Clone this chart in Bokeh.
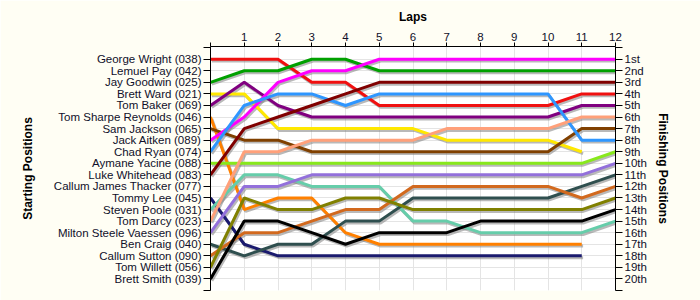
import numpy as np
from bokeh.plotting import figure
from bokeh.models import Range1d, LinearAxis, FixedTicker
from bokeh.embed import file_html
from bokeh.resources import INLINE

nan = float("nan")

laps = list(range(0, 13))
lap_labels = ["", "1", "2", "3", "4", "5", "6", "7", "8", "9", "10", "11", "12"]

start_names = [
    "George Wright (038)", "Lemuel Pay (042)", "Jay Goodwin (025)", "Brett Ward (021)",
    "Tom Baker (069)", "Tom Sharpe Reynolds (046)", "Sam Jackson (065)", "Jack Aitken (089)",
    "Chad Ryan (074)", "Aymane Yacine (088)", "Luke Whitehead (083)", "Callum James Thacker (077)",
    "Tommy Lee (045)", "Steven Poole (031)", "Tom Darcy (023)", "Milton Steele Vaessen (096)",
    "Ben Craig (040)", "Callum Sutton (090)", "Tom Willett (056)", "Brett Smith (039)",
]
finish_labels = ["1st", "2nd", "3rd", "4th", "5th", "6th", "7th", "8th", "9th", "10th",
                 "11th", "12th", "13th", "14th", "15th", "16th", "17th", "18th", "19th", "20th"]

# positions per lap (lap 0 .. 12); nan = not running
george_wright = [1, 1, 1, 3, 3, 5, 5, 5, 5, 5, 5, 4, 4]
jay_goodwin = [3, 2, 2, 1, 1, 2, 2, 2, 2, 2, 2, 2, 2]
brett_ward = [4, 4, 7, 7, 7, 7, 7, 8, 8, 8, 8, 9, nan]
tom_baker = [5, 3, 5, 6, 6, 6, 6, 6, 6, 6, 6, 5, 5]
tom_sharpe_reynolds = [6, 14, 13, 13, 16, 17, 17, 17, 17, 17, 17, 17, nan]
sam_jackson = [7, 8, 8, 9, 9, 9, 9, 9, 9, 9, 9, 7, 7]
jack_aitken = [8, 6, 3, 2, 2, 1, 1, 1, 1, 1, 1, 1, 1]
chad_ryan = [9, 5, 4, 4, 5, 4, 4, 4, 4, 4, 4, 8, 8]
aymane_yacine = [10, 10, 10, 10, 10, 10, 10, 10, 10, 10, 10, 10, 9]
luke_whitehead = [11, 7, 6, 5, 4, 3, 3, 3, 3, 3, 3, 3, 3]
tommy_lee = [13, 17, 18, 18, 18, 18, 18, 18, 18, 18, 18, 18, nan]
steven_poole = [14, 11, 11, 12, 12, 12, 15, 15, 16, 16, 16, 16, 15]
tom_darcy = [15, 9, 9, 8, 8, 8, 8, 7, 7, 7, 7, 6, 6]
milton_steele_vaessen = [16, 12, 12, 11, 11, 11, 11, 11, 11, 11, 11, 11, 10]
ben_craig = [17, 18, 17, 17, 15, 15, 13, 13, 13, 13, 13, 12, 11]
callum_sutton = [18, 16, 16, 15, 14, 14, 12, 12, 12, 12, 12, 13, 12]
tom_willett = [19, 13, 14, 14, 13, 13, 14, 14, 14, 14, 14, 14, 13]
brett_smith = [20, 15, 15, 16, 17, 16, 16, 16, 15, 15, 15, 15, 14]

series = [
    (george_wright, "#F01010"),
    (jay_goodwin, "#00A000"),
    (brett_ward, "#FFE800"),
    (tom_baker, "#800080"),
    (tom_sharpe_reynolds, "#FF8000"),
    (sam_jackson, "#804000"),
    (jack_aitken, "#FF00FF"),
    (chad_ryan, "#2E96FF"),
    (aymane_yacine, "#88E81C"),
    (luke_whitehead, "#800000"),
    (tommy_lee, "#1A1A6E"),
    (steven_poole, "#66CDAA"),
    (tom_darcy, "#FFA07A"),
    (milton_steele_vaessen, "#9370DB"),
    (ben_craig, "#2F4F4F"),
    (callum_sutton, "#D2691E"),
    (tom_willett, "#808000"),
    (brett_smith, "#000000"),
]

TXT = "#10102A"
FONT = "Liberation Sans"

p = figure(width=700, height=300, output_backend="svg", toolbar_location=None,
           x_range=Range1d(0, 12), y_range=Range1d(21, -0.1),
           x_axis_location=None, y_axis_location=None,
           min_border_left=210, min_border_right=85, min_border_top=46, min_border_bottom=10)
p.background_fill_color = "white"
p.border_fill_color = "#FFFEF4"
p.outline_line_color = None

p.xgrid.ticker = FixedTicker(ticks=laps)
p.ygrid.ticker = FixedTicker(ticks=list(range(1, 21)))
p.xgrid.grid_line_color = "#E4E4E4"
p.ygrid.grid_line_color = "#E4E4E4"

# shadows
for vals, col in series:
    xs = np.array(laps, dtype=float) + 0.04
    ys = np.array(vals, dtype=float) + 0.16
    p.line(xs, ys, line_color="#808080", line_alpha=0.55, line_width=3)
for vals, col in series:
    p.line(laps, vals, line_color=col, line_width=3)

def style(ax):
    ax.axis_line_color = "black"
    ax.major_tick_line_color = "black"
    ax.minor_tick_line_color = None
    ax.major_label_text_font = FONT
    ax.major_label_text_font_size = "11.5px"
    ax.major_label_text_color = TXT
    ax.axis_label_text_font = FONT
    ax.axis_label_text_font_style = "bold"
    ax.axis_label_text_font_size = "12px"
    ax.axis_label_text_color = "black"

left = LinearAxis(ticker=FixedTicker(ticks=list(range(0, 22))),
                  major_label_overrides={**{i + 1: n for i, n in enumerate(start_names)}, 0: "", 21: ""},
                  axis_label="Starting Positions")
style(left)
left.major_tick_in = 0
left.major_tick_out = 7
left.major_label_standoff = 2
left.axis_label_standoff = 16
p.add_layout(left, "left")

right = LinearAxis(ticker=FixedTicker(ticks=list(range(0, 22))),
                   major_label_overrides={**{i + 1: n for i, n in enumerate(finish_labels)}, 0: "", 21: ""},
                   axis_label="Finishing Positions")
style(right)
right.major_tick_in = 0
right.major_tick_out = 7
right.major_label_standoff = 2
right.axis_label_standoff = 6
p.add_layout(right, "right")

top = LinearAxis(ticker=FixedTicker(ticks=laps),
                 major_label_overrides={i: s for i, s in zip(laps, lap_labels)},
                 axis_label="Laps")
style(top)
top.major_tick_in = 0
top.major_tick_out = 4
top.major_label_standoff = 2
top.axis_label_standoff = 6
p.add_layout(top, "above")

open("out.html", "w").write(file_html(p, INLINE))
